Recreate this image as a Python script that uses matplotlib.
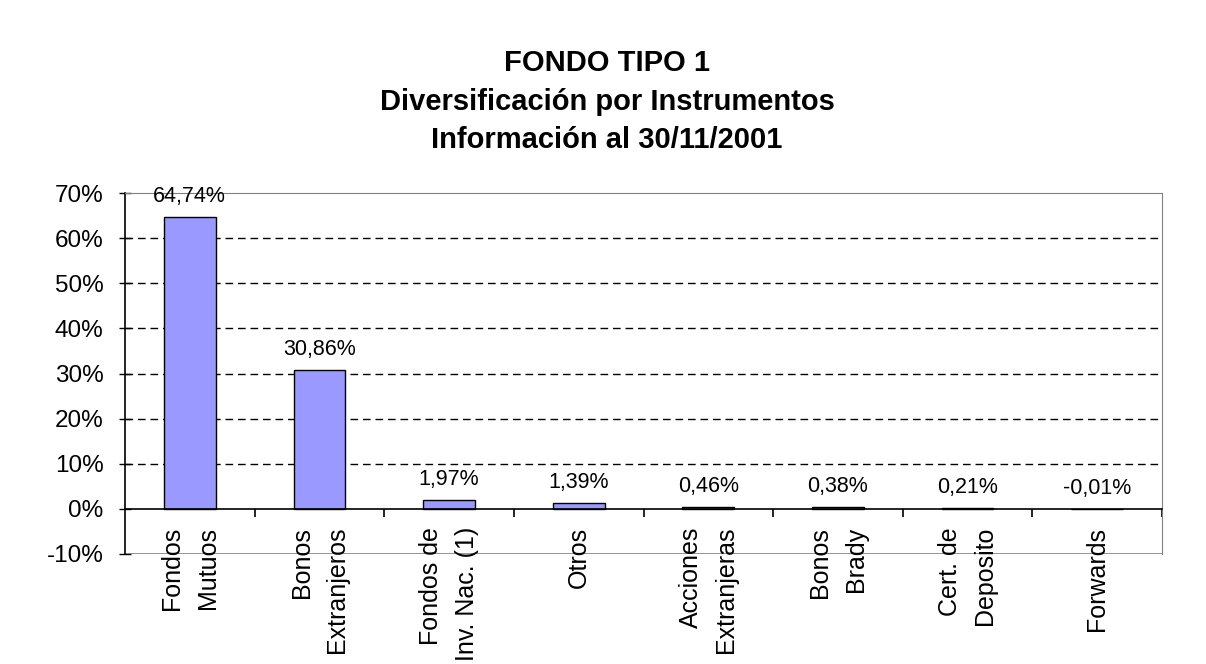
import matplotlib
matplotlib.use("Agg")
import matplotlib.pyplot as plt
from matplotlib.ticker import FixedLocator, FuncFormatter

categories = ["Fondos\nMutuos", "Bonos\nExtranjeros", "Fondos de\nInv. Nac. (1)", "Otros",
              "Acciones\nExtranjeras", "Bonos\nBrady", "Cert. de\nDeposito", "Forwards"]
values = [64.74, 30.86, 1.97, 1.39, 0.46, 0.38, 0.21, -0.01]
yticks = [-10, 0, 10, 20, 30, 40, 50, 60, 70]
title_lines = ["FONDO TIPO 1", "Diversificación por Instrumentos", "Información al 30/11/2001"]

plt.rcParams['font.family'] = ['Liberation Sans', 'DejaVu Sans']

fig = plt.figure(figsize=(12.06, 6.64), dpi=100)
fig.patch.set_facecolor('white')
ax = fig.add_axes([125/1206, 1-554/664, (1162-125)/1206, (554-193)/664])

n = len(categories)
xs = list(range(n))
ax.bar(xs, values, width=0.4, color='#9999FF', edgecolor='black', linewidth=1, zorder=3)

ax.set_xlim(-0.5, n-0.5)
ax.set_ylim(-10, 70)

for y in yticks:
    if 0 < y < 70:
        ax.axhline(y, color='black', linewidth=1, dashes=(5.5, 3.5), zorder=1)

# spines
ax.spines['left'].set_color('black')
ax.spines['left'].set_linewidth(1.2)
ax.spines['top'].set_color('#808080')
ax.spines['right'].set_color('#808080')
ax.spines['bottom'].set_position(('data', 0))
ax.spines['bottom'].set_color('black')
ax.spines['bottom'].set_linewidth(1.2)
ax.spines['bottom'].set_zorder(4)
ax.axhline(-10, color='#808080', linewidth=1.2, zorder=2)

ax.yaxis.set_major_locator(FixedLocator(yticks))
ax.yaxis.set_major_formatter(FuncFormatter(lambda v, p: f"{v:.0f}%"))
ax.tick_params(axis='y', direction='inout', length=9, width=1, labelsize=17.5, pad=11, colors='black')

ax.set_xticks([i + 0.5 for i in range(n)])
ax.set_xticklabels([])
ax.tick_params(axis='x', direction='out', length=6, width=1.2, colors='black')

for i, (c, v) in enumerate(zip(categories, values)):
    lab = f"{v:.2f}".replace('.', ',') + '%'
    ax.annotate(lab, xy=(i, max(v, 0)), xytext=(0, 7), textcoords='offset points',
                ha='center', va='bottom', fontsize=15.5)
    ax.annotate(c, xy=(i, 0), xytext=(0, -13), textcoords='offset points',
                ha='center', va='top', rotation=90, fontsize=18,
                multialignment='right', linespacing=1.6, annotation_clip=False)

baselines = [71, 110, 148]
for t, y in zip(title_lines, baselines):
    fig.text(607/1206, 1 - y/664, t, ha='center', va='baseline', fontsize=21, fontweight='bold')

fig.savefig('out.png', dpi=100, facecolor='white')
